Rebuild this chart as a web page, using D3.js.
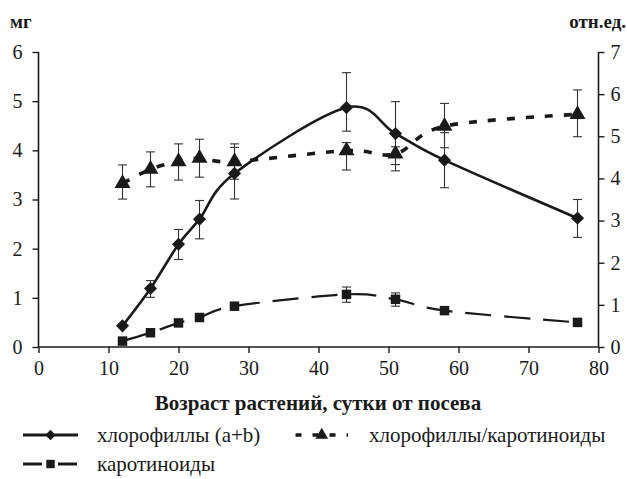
<!DOCTYPE html>
<html><head><meta charset="utf-8">
<script src="https://cdnjs.cloudflare.com/ajax/libs/d3/7.8.5/d3.min.js"></script>
<style>
html,body{margin:0;padding:0;background:#fff;}
</style></head>
<body><svg id="c" width="627" height="479"></svg>
<script>
// ---- data ----
const days = [12, 16, 20, 23, 28, 44, 51, 58, 77];
const chlValues = [0.43, 1.19, 2.09, 2.60, 3.53, 4.87, 4.34, 3.80, 2.62];
const chlErrLow = [0.40, 1.01, 1.78, 2.20, 3.01, 4.39, 3.71, 3.24, 2.23];
const chlErrHigh = [0.46, 1.35, 2.39, 2.98, 4.06, 5.58, 4.99, 4.36, 3.00];
const carValues = [0.12, 0.29, 0.49, 0.60, 0.83, 1.07, 0.97, 0.74, 0.50];
const carErrLow = [null, null, null, null, 0.77, 0.91, 0.83, null, null];
const carErrHigh = [null, null, null, null, 0.89, 1.22, 1.10, null, null];
const ratioValues = [3.88, 4.22, 4.40, 4.48, 4.40, 4.66, 4.58, 5.24, 5.52];
const ratioErrLow = [3.51, 3.80, 3.96, 4.03, 3.98, 4.20, 4.18, 4.73, 4.99];
const ratioErrHigh = [4.32, 4.63, 4.82, 4.93, 4.82, 4.85, 4.75, 5.78, 6.10];
const xTicks = [0, 10, 20, 30, 40, 50, 60, 70, 80];
const yLeftTicks = [0, 1, 2, 3, 4, 5, 6];
const yRightTicks = [0, 1, 2, 3, 4, 5, 6, 7];
const leftUnit = "мг";
const rightUnit = "отн.ед.";
const xTitle = "Возраст растений, сутки от посева";
const seriesNames = ["хлорофиллы (a+b)", "хлорофиллы/каротиноиды", "каротиноиды"];

// ---- layout ----
const FONT = "'Liberation Serif', Tinos, FreeSerif, serif";
const svg = d3.select("#c");
const L = 38.5, R = 598.5, T = 52, B = 347;
const x = d3.scaleLinear().domain([0, 80]).range([L, R]);
const yL = d3.scaleLinear().domain([0, 6]).range([B, T]);
const yR = d3.scaleLinear().domain([0, 7]).range([B, T]);
const ink = "#1a1a1a";
const fs = 20;

function styleText(sel, size, bold) {
  sel.style("font-family", FONT, "important")
     .style("font-size", size + "px", "important")
     .style("font-weight", bold ? "bold" : "normal")
     .attr("fill", ink);
}

// axes
const gx = svg.append("g").attr("transform", `translate(0,${B})`)
  .call(d3.axisBottom(x).tickValues(xTicks).tickSize(6).tickPadding(8).tickFormat(d3.format("d")));
const gl = svg.append("g").attr("transform", `translate(${L},0)`)
  .call(d3.axisLeft(yL).tickValues(yLeftTicks).tickSize(6).tickPadding(10).tickFormat(d3.format("d")));
const gr = svg.append("g").attr("transform", `translate(${R},0)`)
  .call(d3.axisRight(yR).tickValues(yRightTicks).tickSize(6).tickPadding(6).tickFormat(d3.format("d")));
[gx, gl, gr].forEach(g => {
  g.attr("font-family", null).attr("font-size", null);
  g.select(".domain").attr("stroke", ink).attr("stroke-width", 1.6);
  g.selectAll(".tick line").attr("stroke", ink).attr("stroke-width", 1.4);
  styleText(g.selectAll(".tick text"), fs, false);
});
gx.select(".domain").attr("d", `M${L},0H${R}`);
gl.select(".domain").attr("d", `M0,${B}V${T}`);
gr.select(".domain").attr("d", `M0,${B}V${T}`);

function label(xp, yp, txt, anchor, size, bold) {
  const t = svg.append("text").attr("x", xp).attr("y", yp).attr("text-anchor", anchor).text(txt);
  styleText(t, size, bold);
}
label(10, 28, leftUnit, "start", 19, true);
label(626, 28, rightUnit, "end", 19, true);
label(318, 410, xTitle, "middle", 21, true);

// lines
const curve = d3.curveCardinal.tension(0);
function drawSeries(vals, lo, hi, yS, dash, sw) {
  const pts = days.map((d, i) => [d, vals[i], lo[i], hi[i]]);
  const eb = svg.append("g").attr("stroke", "#333").attr("stroke-width", 1.1);
  pts.filter(p => p[2] != null).forEach(p => {
    const cx = x(p[0]);
    eb.append("line").attr("x1", cx).attr("x2", cx).attr("y1", yS(p[2])).attr("y2", yS(p[3]));
    eb.append("line").attr("x1", cx - 4.5).attr("x2", cx + 4.5).attr("y1", yS(p[2])).attr("y2", yS(p[2]));
    eb.append("line").attr("x1", cx - 4.5).attr("x2", cx + 4.5).attr("y1", yS(p[3])).attr("y2", yS(p[3]));
  });
  svg.append("path").datum(pts)
    .attr("d", d3.line().x(p => x(p[0])).y(p => yS(p[1])).curve(curve))
    .attr("fill", "none").attr("stroke", ink).attr("stroke-width", sw)
    .attr("stroke-dasharray", dash);
  return pts;
}
const chlPts = drawSeries(chlValues, chlErrLow, chlErrHigh, yL, null, 2.6);
const carPts = drawSeries(carValues, carErrLow, carErrHigh, yL, "26,13", 2.2);
const ratPts = drawSeries(ratioValues, ratioErrLow, ratioErrHigh, yR, "8,11", 3.6);

const diamond = d3.symbol().type(d3.symbolDiamond2).size(110);
const square = d3.symbol().type(d3.symbolSquare).size(90);
const triangle = d3.symbol().type(d3.symbolTriangle).size(110);
function markers(pts, yS, sym) {
  svg.append("g").selectAll("path").data(pts).join("path")
    .attr("transform", p => `translate(${x(p[0])},${yS(p[1])})`)
    .attr("d", sym).attr("fill", ink);
}
markers(chlPts, yL, diamond);
markers(carPts, yL, square);
markers(ratPts, yR, triangle);

// legend
const legendSym = d3.symbol().size(70);
function legendItem(x0, x1, y, dash, sw, type, txt, tx) {
  svg.append("line").attr("x1", x0).attr("x2", x1).attr("y1", y).attr("y2", y)
    .attr("stroke", ink).attr("stroke-width", sw).attr("stroke-dasharray", dash);
  svg.append("path").attr("transform", `translate(${(x0 + x1) / 2},${y})`).attr("d", legendSym.type(type)()).attr("fill", ink);
  label(tx, y + 7, txt, "start", 21, false);
}
legendItem(23, 78, 435, null, 2.8, d3.symbolDiamond2, seriesNames[0], 97);
legendItem(295.5, 348, 435, "6,11", 3.4, d3.symbolTriangle, seriesNames[1], 369);
legendItem(23, 78, 464, "19,16", 2.8, d3.symbolSquare, seriesNames[2], 97);
</script></body></html>
